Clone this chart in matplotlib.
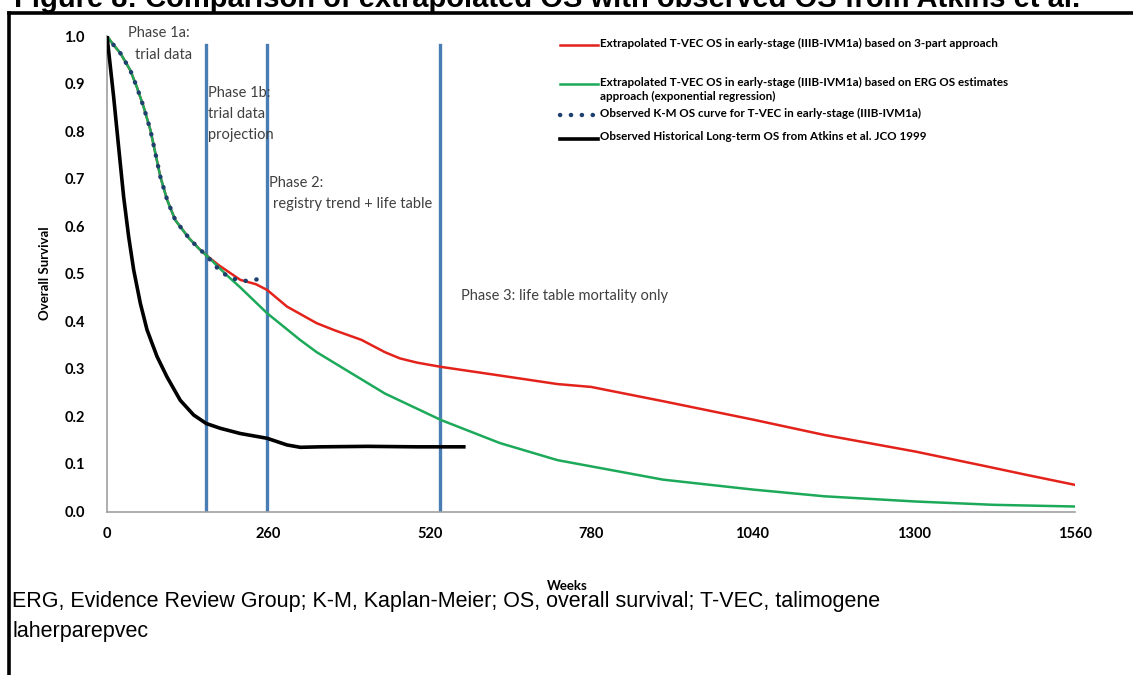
import matplotlib
matplotlib.use("Agg")
import matplotlib.pyplot as plt
from matplotlib.lines import Line2D

# curve shared by the extrapolations and the K-M curve up to week ~160
common_weeks = [0, 10, 21.5, 37.5, 48, 59, 70, 78, 86, 97, 110, 132, 148, 160]
common_surv = [1.0, 0.982, 0.964, 0.928, 0.893, 0.851, 0.802, 0.753, 0.704, 0.655, 0.613, 0.575,
               0.553, 0.539]

red_weeks = common_weeks + [180, 215, 240, 258, 290, 338, 367, 410, 448, 472, 500, 539, 633, 726,
                            780, 896, 1042, 1156, 1303, 1417, 1482, 1560]
red_surv = common_surv + [0.518, 0.487, 0.478, 0.466, 0.431, 0.396, 0.381, 0.361, 0.335, 0.322,
                          0.313, 0.304, 0.286, 0.268, 0.262, 0.232, 0.193, 0.161, 0.126, 0.095,
                          0.077, 0.056]

green_weeks = common_weeks + [193, 215, 258, 311, 338, 386, 448, 539, 633, 726, 780, 896, 1042,
                              1156, 1303, 1430, 1560]
green_surv = common_surv + [0.497, 0.471, 0.417, 0.361, 0.335, 0.297, 0.248, 0.192, 0.144, 0.108,
                            0.095, 0.067, 0.046, 0.032, 0.021, 0.014, 0.0105]

km_weeks = common_weeks + [169, 180, 193, 208, 224, 241, 257]
km_surv = common_surv + [0.525, 0.509, 0.496, 0.488, 0.485, 0.488, 0.490]

atkins_weeks = [0, 10.7, 18.7, 26.8, 34.9, 43, 53.7, 64.5, 80.6, 96.7, 118, 139.6, 160, 182.6,
                214.8, 257.9, 290, 311.5, 343.8, 420, 500, 575]
atkins_surv = [1.0, 0.872, 0.767, 0.662, 0.578, 0.508, 0.438, 0.382, 0.326, 0.283, 0.234, 0.203,
               0.185, 0.175, 0.164, 0.154, 0.140, 0.135, 0.136, 0.137, 0.136, 0.136]

phase_weeks = [160, 258, 536]

x_ticks = [0, 260, 520, 780, 1040, 1300, 1560]
y_ticks = [0.0, 0.1, 0.2, 0.3, 0.4, 0.5, 0.6, 0.7, 0.8, 0.9, 1.0]

legend_labels = [
    "Extrapolated T-VEC OS in early-stage (IIIB-IVM1a) based on 3-part approach",
    "Extrapolated T-VEC OS in early-stage (IIIB-IVM1a) based on ERG OS estimates\napproach (exponential regression)",
    "Observed K-M OS curve for T-VEC in early-stage (IIIB-IVM1a)",
    "Observed Historical Long-term OS from Atkins et al. JCO 1999",
]

RED = "#E3231B"
GREEN = "#1DA95A"
NAVY = "#1F3F6E"
BLUE = "#4A7DB4"
chart_font = "Lato"

W, H = 1133, 675
fig = plt.figure(figsize=(W / 100, H / 100), dpi=100)
ax = fig.add_axes([107 / W, 1 - 511.5 / H, (1075 - 107) / W, (511.5 - 36) / H])

for wk in phase_weeks:
    ax.plot([wk, wk], [0, 0.981], color=BLUE, lw=2.4, zorder=1)

ax.plot(red_weeks, red_surv, color=RED, lw=1.8, solid_joinstyle="round", zorder=2)
ax.plot(green_weeks, green_surv, color=GREEN, lw=1.8, solid_joinstyle="round", zorder=3)
ax.plot(km_weeks, km_surv, color=NAVY, lw=3.2, linestyle=(0, (0.05, 2.4)),
        dash_capstyle="round", zorder=4)
ax.plot(atkins_weeks, atkins_surv, color="black", lw=2.6, solid_joinstyle="round", zorder=5)

ax.set_xlim(0, 1560)
ax.set_ylim(0, 1.0)
ax.set_xticks(x_ticks)
ax.set_yticks(y_ticks)
ax.set_yticklabels([f"{v:.1f}" for v in y_ticks])
ax.tick_params(length=0, labelsize=10.5)
for lab in ax.get_xticklabels() + ax.get_yticklabels():
    lab.set_fontweight("bold")
    lab.set_fontfamily(chart_font)
ax.tick_params(axis="y", pad=16)
ax.tick_params(axis="x", pad=11)
for side in ["top", "right"]:
    ax.spines[side].set_visible(False)
for side in ["left", "bottom"]:
    ax.spines[side].set_color("#A0A0A0")
    ax.spines[side].set_linewidth(1.2)

fig.text(45 / W, 1 - 273 / H, "Overall Survival", rotation=90, ha="center", va="center",
         fontsize=9.5, fontweight="bold", family=chart_font)
fig.text(567 / W, 1 - 586 / H, "Weeks", ha="center", va="center",
         fontsize=9.5, fontweight="bold", family=chart_font)

# phase annotations
phase_color = "#404040"
phase_texts = [
    (128, 33, "Phase 1a:"), (135, 55, "trial data"),
    (208, 93, "Phase 1b:"), (208, 114, "trial data"), (208, 135, "projection"),
    (269, 183, "Phase 2:"), (273, 204, "registry trend + life table"),
    (461, 296, "Phase 3: life table mortality only"),
]
for px, py, s in phase_texts:
    fig.text(px / W, 1 - py / H, s, ha="left", va="center", fontsize=10.5,
             color=phase_color, family=chart_font)

# legend drawn by hand, entries are not evenly spaced
legend_styles = [
    dict(color=RED, lw=1.8),
    dict(color=GREEN, lw=1.8),
    dict(color=NAVY, lw=3.2, linestyle=(0, (0.05, 2.4)), dash_capstyle="round"),
    dict(color="black", lw=2.6),
]
legend_rows = [45, 84, 115, 139]
for y, label, style in zip(legend_rows, legend_labels, legend_styles):
    fig.add_artist(Line2D([560 / W, 598 / W], [1 - y / H, 1 - y / H], **style))
    fig.text(600 / W, 1 - (y - 7.5) / H, label, ha="left", va="top", fontsize=8.4,
             fontweight="bold", family=chart_font, linespacing=1.4)

# outer frame (only top and left edges are inside the picture)
fig.add_artist(Line2D([9 / W, 1.0], [1 - 13 / H, 1 - 13 / H], color="black", lw=2.6))
fig.add_artist(Line2D([9 / W, 9 / W], [0, 1 - 13 / H], color="black", lw=2.6))

# title: only its lower edge shows in the picture, as in the source page
fig.text(14 / W, 1 - 7 / H, "Figure 8: Comparison of extrapolated OS with observed OS from Atkins et al.",
         ha="left", va="baseline", fontsize=21, fontweight="bold", family="Liberation Sans")

caption_lines = ["ERG, Evidence Review Group; K-M, Kaplan-Meier; OS, overall survival; T-VEC, talimogene",
                 "laherparepvec"]
for cy, line in zip([602, 631], caption_lines):
    fig.text(12 / W, 1 - cy / H, line, ha="left", va="center", fontsize=15.5,
             family="Liberation Sans")

fig.savefig("out.png", dpi=100)
